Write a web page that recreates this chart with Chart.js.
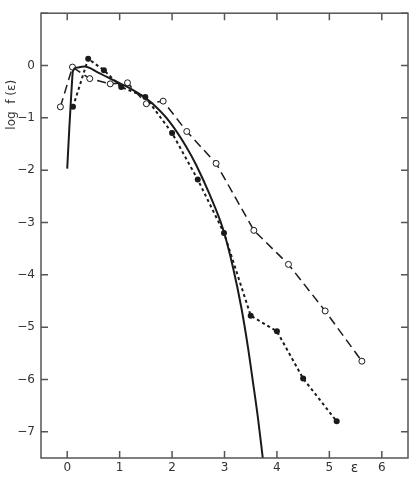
<!DOCTYPE html>
<html>
<head>
<meta charset="utf-8">
<script src="https://cdn.jsdelivr.net/npm/chart.js@4.4.1/dist/chart.umd.min.js"></script>
<style>
  html, body { margin: 0; padding: 0; background: #fff; }
</style>
</head>
<body>
<canvas id="chart" width="415" height="477"></canvas>
<script>
// tick positions
const xTicks = [0, 1, 2, 3, 4, 5, 6];
const yTicks = [1, 0, -1, -2, -3, -4, -5, -6, -7];

// open circles, long dashes
const openX = [-0.13, 0.10, 0.43, 0.82, 1.15, 1.51, 1.83, 2.28, 2.84, 3.56, 4.22, 4.92, 5.62];
const openY = [-0.79, -0.03, -0.25, -0.35, -0.33, -0.73, -0.68, -1.26, -1.87, -3.15, -3.80, -4.69, -5.65];

// filled circles, short dashes
const filledX = [0.11, 0.40, 0.70, 1.03, 1.49, 2.00, 2.49, 2.99, 3.50, 4.00, 4.50, 5.14];
const filledY = [-0.79, 0.13, -0.09, -0.41, -0.60, -1.29, -2.18, -3.20, -4.78, -5.08, -5.98, -6.80];

// solid curve
const solidX = [0.00, 0.04, 0.08, 0.11, 0.18, 0.33, 0.60, 0.90, 1.19, 1.48, 1.63, 1.95, 2.27, 2.46, 2.71, 2.97, 3.16, 3.32, 3.45, 3.54, 3.64, 3.73];
const solidY = [-1.97, -1.20, -0.50, -0.10, -0.04, -0.02, -0.14, -0.29, -0.43, -0.61, -0.73, -1.07, -1.55, -1.90, -2.45, -3.12, -3.85, -4.62, -5.40, -6.03, -6.75, -7.50];

function toPoints(xs, ys) {
  return xs.map((x, i) => ({ x: x, y: ys[i] }));
}

const ink = '#1a1a1a';
const tickFont = { family: 'DejaVu Sans', size: 12 };

function minus(v) {
  return String(v).replace('-', '\u2212');
}

// frame, inward ticks, epsilon and y title
const framePlugin = {
  id: 'frame',
  afterDraw(chart) {
    const ctx = chart.ctx;
    const a = chart.chartArea;
    const sx = chart.scales.x;
    const sy = chart.scales.y;
    const len = 7;
    ctx.save();
    ctx.strokeStyle = '#555';
    ctx.lineWidth = 1.5;
    ctx.strokeRect(a.left, a.top, a.right - a.left, a.bottom - a.top);
    ctx.beginPath();
    xTicks.forEach(v => {
      const px = sx.getPixelForValue(v);
      ctx.moveTo(px, a.bottom); ctx.lineTo(px, a.bottom - len);
      ctx.moveTo(px, a.top); ctx.lineTo(px, a.top + len);
    });
    yTicks.forEach(v => {
      const py = sy.getPixelForValue(v);
      ctx.moveTo(a.left, py); ctx.lineTo(a.left + len, py);
      ctx.moveTo(a.right, py); ctx.lineTo(a.right - len, py);
    });
    ctx.stroke();

    ctx.fillStyle = '#333';
    ctx.font = '14px "DejaVu Sans"';
    ctx.textAlign = 'center';
    ctx.textBaseline = 'middle';
    ctx.fillText('\u03b5', sx.getPixelForValue(5.48), a.bottom + 10);

    ctx.translate(12, sy.getPixelForValue(-0.75));
    ctx.rotate(-Math.PI / 2);
    ctx.font = '12px "DejaVu Sans"';
    ctx.fillText('log  f (\u03b5)', 0, 0);
    ctx.restore();
  }
};

new Chart(document.getElementById('chart'), {
  type: 'scatter',
  data: {
    datasets: [
      {
        label: 'solid',
        data: toPoints(solidX, solidY),
        showLine: true,
        borderColor: ink,
        borderWidth: 2,
        pointRadius: 0,
        cubicInterpolationMode: 'monotone'
      },
      {
        label: 'filled',
        data: toPoints(filledX, filledY),
        showLine: true,
        borderColor: ink,
        borderWidth: 2,
        borderDash: [3, 3],
        pointRadius: 3,
        pointBackgroundColor: ink,
        pointBorderColor: ink,
        pointBorderWidth: 0
      },
      {
        label: 'open',
        data: toPoints(openX, openY),
        showLine: true,
        borderColor: ink,
        borderWidth: 1.5,
        borderDash: [9, 5],
        pointRadius: 3,
        pointBackgroundColor: '#fff',
        pointBorderColor: ink,
        pointBorderWidth: 1
      }
    ]
  },
  options: {
    responsive: false,
    animation: false,
    devicePixelRatio: 1,
    layout: { padding: { top: 9, right: 7, left: 0, bottom: 0 } },
    plugins: {
      legend: { display: false },
      tooltip: { enabled: false }
    },
    scales: {
      x: {
        type: 'linear',
        min: -0.5,
        max: 6.5,
        afterBuildTicks: s => { s.ticks = xTicks.map(v => ({ value: v })); },
        afterFit: s => { s.height = 19; },
        grid: { display: false, drawTicks: false },
        border: { display: false },
        ticks: { color: '#333', font: tickFont, padding: 3, callback: v => minus(v) }
      },
      y: {
        type: 'linear',
        min: -7.5,
        max: 1,
        afterBuildTicks: s => { s.ticks = yTicks.filter(v => v <= 0).map(v => ({ value: v })); },
        afterFit: s => { s.width = 41; },
        grid: { display: false, drawTicks: false },
        border: { display: false },
        ticks: { color: '#333', font: tickFont, padding: 6, callback: v => minus(v) }
      }
    }
  },
  plugins: [framePlugin]
});
</script>
</body>
</html>
